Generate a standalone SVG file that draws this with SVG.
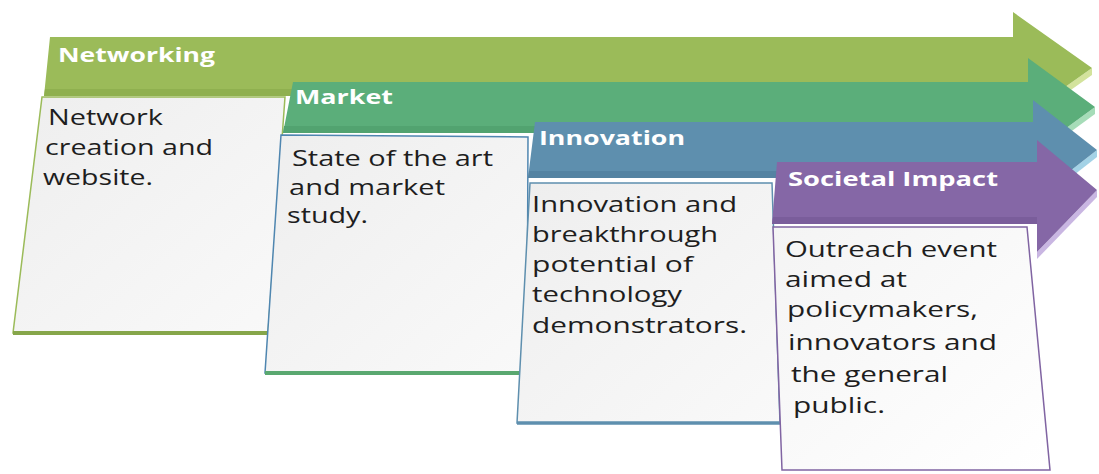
<svg xmlns="http://www.w3.org/2000/svg" width="1099" height="474" viewBox="0 0 1099 474">
  <defs>
    <linearGradient id="boxFill" x1="0" y1="0" x2="1" y2="1">
      <stop offset="0" stop-color="#eeeeee"/>
      <stop offset="1" stop-color="#f9f9f9"/>
    </linearGradient>
    <linearGradient id="boxFillW" x1="0" y1="0" x2="1" y2="1">
      <stop offset="0" stop-color="#f4f4f4"/>
      <stop offset="1" stop-color="#ffffff"/>
    </linearGradient>
  </defs>
  <style>
    .hdr { font-family: "Open Sans", "DejaVu Sans", sans-serif; font-weight: bold; font-size: 20px; fill: #ffffff; }
    .txt { font-family: "Open Sans", "DejaVu Sans", sans-serif; font-size: 21px; fill: #1e1e1e; }
  </style>
  <rect width="1099" height="474" fill="#ffffff"/>

  <g id="networking">
    <polygon points="1092,68 1013,124 1013,131 1092,75" fill="#d3e39c"/>
    <polygon points="50,37 1013,37 1013,12 1092,68 1013,124 1013,96 44,96" fill="#9bbb59"/>
    <polygon points="45,89 1013,89 1013,96 44,96" fill="#8fb04f"/>
    <text class="hdr" x="58" y="62" textLength="157" lengthAdjust="spacingAndGlyphs">Networking</text>
    <polygon points="42,97 285,97 268,333 13,333" fill="url(#boxFill)" stroke="#9bbb59" stroke-width="1.5"/>
    <line x1="13" y1="333" x2="268" y2="333" stroke="#86a64a" stroke-width="4"/>
    <text class="txt" x="48" y="125" textLength="115" lengthAdjust="spacingAndGlyphs">Network</text>
    <text class="txt" x="45" y="155" textLength="168" lengthAdjust="spacingAndGlyphs">creation and</text>
    <text class="txt" x="43" y="185" textLength="110" lengthAdjust="spacingAndGlyphs">website.</text>
  </g>

  <g id="market">
    <polygon points="1095,107 1028,156 1028,163 1095,114" fill="#a6dcb8"/>
    <polygon points="293,82 1028,82 1028,58 1095,107 1028,156 1028,133 283,133" fill="#5bae7a"/>
    <polygon points="284,126 1028,126 1028,133 283,133" fill="#52a370"/>
    <text class="hdr" x="295" y="104" textLength="98" lengthAdjust="spacingAndGlyphs">Market</text>
    <polygon points="281,135 528,137 527,373 265,373" fill="url(#boxFill)" stroke="#4f86b0" stroke-width="1.5"/>
    <line x1="265" y1="373" x2="527" y2="373" stroke="#5aa870" stroke-width="4"/>
    <text class="txt" x="292" y="166" textLength="201" lengthAdjust="spacingAndGlyphs">State of the art</text>
    <text class="txt" x="289" y="195" textLength="156" lengthAdjust="spacingAndGlyphs">and market</text>
    <text class="txt" x="287" y="223" textLength="81" lengthAdjust="spacingAndGlyphs">study.</text>
  </g>

  <g id="innovation">
    <polygon points="1097,150 1033,200 1033,207 1097,157" fill="#a3d2e6"/>
    <polygon points="535,122 1033,122 1033,100 1097,150 1033,200 1033,178 528,178" fill="#5e8fae"/>
    <polygon points="529,171 1033,171 1033,178 528,178" fill="#5483a2"/>
    <text class="hdr" x="539" y="145" textLength="146" lengthAdjust="spacingAndGlyphs">Innovation</text>
    <polygon points="530,183 772,183 780,423 517,423" fill="url(#boxFill)" stroke="#5e8fae" stroke-width="1.5"/>
    <line x1="517" y1="423" x2="780" y2="423" stroke="#5e8fae" stroke-width="3.5"/>
    <text class="txt" x="532" y="212" textLength="205" lengthAdjust="spacingAndGlyphs">Innovation and</text>
    <text class="txt" x="532" y="242" textLength="186" lengthAdjust="spacingAndGlyphs">breakthrough</text>
    <text class="txt" x="532" y="272" textLength="161" lengthAdjust="spacingAndGlyphs">potential of</text>
    <text class="txt" x="532" y="302" textLength="150" lengthAdjust="spacingAndGlyphs">technology</text>
    <text class="txt" x="532" y="333" textLength="215" lengthAdjust="spacingAndGlyphs">demonstrators.</text>
  </g>

  <g id="societal-impact">
    <polygon points="1097,190 1037,252 1037,259 1097,197" fill="#c9b6e2"/>
    <polygon points="777,162 1037,162 1037,140 1097,190 1037,252 1037,224 772,224" fill="#8567a6"/>
    <polygon points="773,217 1037,217 1037,224 772,224" fill="#7a5d9b"/>
    <text class="hdr" x="788" y="186" textLength="210" lengthAdjust="spacingAndGlyphs">Societal Impact</text>
    <polygon points="773,227 1027,227 1050,470 782,470" fill="url(#boxFillW)" stroke="#8064a2" stroke-width="1.5"/>
    <text class="txt" x="785" y="257" textLength="212" lengthAdjust="spacingAndGlyphs">Outreach event</text>
    <text class="txt" x="785" y="287" textLength="122" lengthAdjust="spacingAndGlyphs">aimed at</text>
    <text class="txt" x="787" y="317" textLength="191" lengthAdjust="spacingAndGlyphs">policymakers,</text>
    <text class="txt" x="788" y="350" textLength="209" lengthAdjust="spacingAndGlyphs">innovators and</text>
    <text class="txt" x="791" y="382" textLength="157" lengthAdjust="spacingAndGlyphs">the general</text>
    <text class="txt" x="793" y="413" textLength="92" lengthAdjust="spacingAndGlyphs">public.</text>
  </g>

  <g id="connectors"/>
</svg>
